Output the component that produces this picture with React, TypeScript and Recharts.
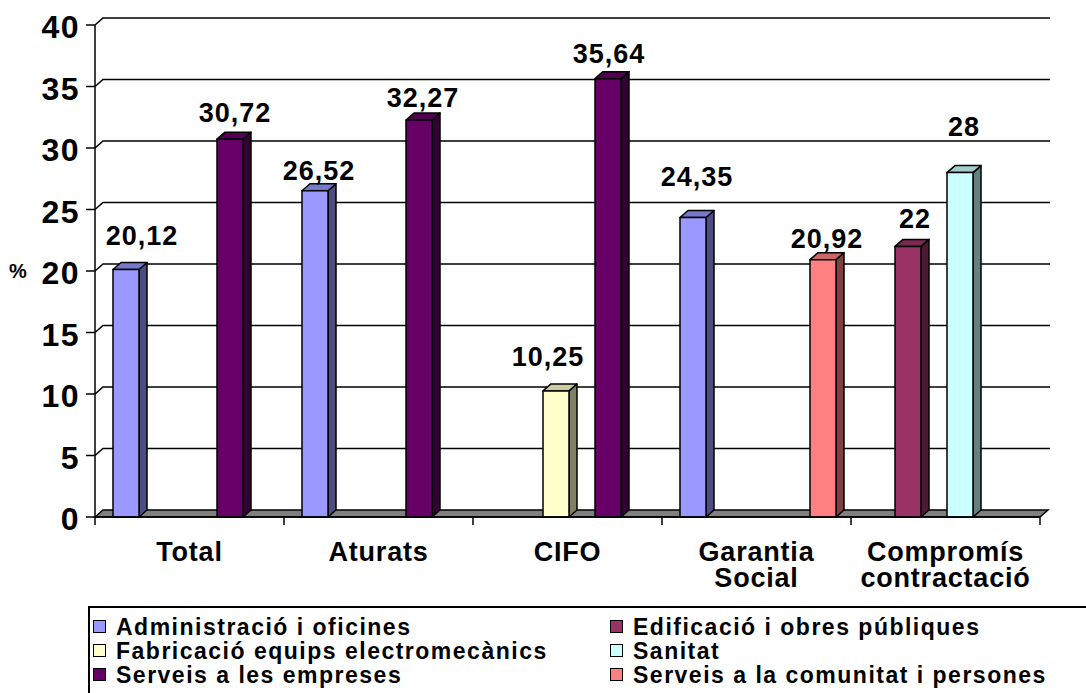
import { Bar, BarChart, CartesianGrid, LabelList, Legend, XAxis, YAxis } from "recharts"

const categories = ["Total", "Aturats", "CIFO", "Garantia Social", "Compromís contractació"]

const administracio = [20.12, 26.52, null, 24.35, null]
const edificacio = [null, null, null, null, 22]
const fabricacio = [null, null, 10.25, null, null]
const sanitat = [null, null, null, null, 28]
const serveisEmpreses = [30.72, 32.27, 35.64, null, null]
const serveisComunitat = [null, null, null, 20.92, null]

const yTicks = [0, 5, 10, 15, 20, 25, 30, 35, 40]

const FONT = '"Liberation Sans", Arial, Helvetica, sans-serif'
// depth of the 3D look (right, up)
const DX = 8
const DY = 7

const series = [
  { key: "admin", name: "Administració i oficines", values: administracio, front: "#9999FF", top: "#7777CC", side: "#4D4D80" },
  { key: "edif", name: "Edificació i obres públiques", values: edificacio, front: "#993366", top: "#7A2952", side: "#4D1A33" },
  { key: "fab", name: "Fabricació equips electromecànics", values: fabricacio, front: "#FFFFCC", top: "#CCCCA3", side: "#808066" },
  { key: "sanitat", name: "Sanitat", values: sanitat, front: "#CCFFFF", top: "#A3CCCC", side: "#668080" },
  { key: "empreses", name: "Serveis a les empreses", values: serveisEmpreses, front: "#660066", top: "#520052", side: "#330033" },
  { key: "comunitat", name: "Serveis a la comunitat i persones", values: serveisComunitat, front: "#FF8080", top: "#CC6666", side: "#804040" },
]

// hand-placed data labels in the original (dx, dy from default spot), by category index
const labelNudge: Record<string, [number, number]> = {
  "0-admin": [12, -5],
  "0-empreses": [1, 3],
  "1-admin": [0, 9],
  "1-empreses": [0, 7],
  "2-fab": [-12, -5],
  "2-empreses": [-3, 4],
  "3-admin": [0, -11],
  "3-comunitat": [0, 8],
  "4-edif": [3, 2],
  "4-sanitat": [0, -17],
}

const data = categories.map((category, i) => {
  const row: Record<string, string | number | null> = { category }
  series.forEach((s) => {
    row[s.key] = s.values[i]
  })
  return row
})

function Bar3D(props: any) {
  const { x, y, width, height, front, top, side } = props
  if (height == null || height <= 0 || x == null) return null
  const r = x + width
  const b = y + height
  return (
    <g stroke="#000" strokeWidth={1.5} strokeLinejoin="round">
      <polygon points={`${r},${y} ${r + DX},${y - DY} ${r + DX},${b - DY} ${r},${b}`} fill={side} />
      <polygon points={`${x},${y} ${x + DX},${y - DY} ${r + DX},${y - DY} ${r},${y}`} fill={top} />
      <rect x={x} y={y} width={width} height={height} fill={front} />
    </g>
  )
}

function ValueLabel(props: any) {
  const { x, y, width, value, values, seriesKey } = props
  if (value == null) return null
  const cat = values.indexOf(value)
  const [dx, dy] = labelNudge[`${cat}-${seriesKey}`] ?? [0, 0]
  return (
    <text
      x={x + width / 2 + DX / 2 + dx}
      y={y - 20 + dy}
      textAnchor="middle"
      fontFamily={FONT}
      fontWeight="bold"
      fontSize={27}
      letterSpacing={1}
      fill="#000"
    >
      {String(value).replace(".", ",")}
    </text>
  )
}

function GridLine(props: any) {
  const { x1, y1, x2, y, height } = props
  if (Math.abs(y1 - (y + height)) < 0.5) {
    return (
      <polygon
        points={`${x1},${y1} ${x1 + DX},${y1 - DY} ${x2 + DX},${y1 - DY} ${x2},${y1}`}
        fill="#808080"
        stroke="#000"
        strokeWidth={1.5}
      />
    )
  }
  return (
    <polyline
      points={`${x1},${y1} ${x1 + DX},${y1 - DY} ${x2 + DX + 2},${y1 - DY}`}
      fill="none"
      stroke="#000"
      strokeWidth={1.6}
    />
  )
}

function YTick(props: any) {
  const { x, y, payload } = props
  return (
    <text
      x={x}
      y={y}
      dy={13}
      textAnchor="end"
      fontFamily={FONT}
      fontWeight="bold"
      fontSize={32}
      letterSpacing={1.5}
      fill="#000"
    >
      {payload.value}
    </text>
  )
}

function CategoryTick(props: any) {
  const { x, y, payload, index, width, visibleTicksCount } = props
  const half = (width ?? 945) / (visibleTicksCount ?? categories.length) / 2
  const words = String(payload.value).split(" ")
  return (
    <g>
      <line x1={x - half} y1={y} x2={x - half} y2={y + 8} stroke="#000" strokeWidth={1.5} />
      {index === categories.length - 1 && (
        <line x1={x + half} y1={y} x2={x + half} y2={y + 8} stroke="#000" strokeWidth={1.5} />
      )}
      <text
        x={x}
        y={y + 44}
        textAnchor="middle"
        fontFamily={FONT}
        fontWeight="bold"
        fontSize={27}
        letterSpacing={0.8}
        fill="#000"
      >
        {words.map((w, i) => (
          <tspan key={w} x={x} dy={i === 0 ? 0 : 26}>
            {w}
          </tspan>
        ))}
      </text>
    </g>
  )
}

function LegendBox(props: any) {
  const { payload = [] } = props
  return (
    <div
      style={{
        border: "2px solid #000",
        borderRight: "none",
        borderBottom: "none",
        paddingLeft: 3,
        paddingTop: 7,
        height: 100,
        boxSizing: "border-box",
        display: "grid",
        gridTemplateColumns: "517px 517px",
        gridAutoRows: "24px",
        fontFamily: FONT,
        fontWeight: "bold",
        fontSize: 23,
        letterSpacing: 1.5,
        lineHeight: "24px",
        color: "#000",
        background: "#fff",
      }}
    >
      {payload.map((entry: any) => (
        <div key={entry.value} style={{ display: "flex", alignItems: "flex-start", height: 24, whiteSpace: "nowrap" }}>
          <span
            style={{
              display: "block",
              flex: "none",
              width: 13,
              height: 13,
              boxSizing: "border-box",
              border: "1.5px solid #000",
              background: entry.color,
              marginRight: 10,
              marginTop: 5,
            }}
          />
          <span>{entry.value}</span>
        </div>
      ))}
    </div>
  )
}

const legendOrder = (item: any) => series.findIndex((s) => s.key === item.dataKey)

export default function App() {
  return (
    <div style={{ position: "absolute", left: 0, top: 0, width: 1086, height: 693, background: "#fff", overflow: "hidden" }}>
      <BarChart
        width={1086}
        height={693}
        data={data}
        margin={{ top: 25, right: 46, left: 0, bottom: 116 }}
        barCategoryGap={18}
        barGap={0}
      >
        <CartesianGrid vertical={false} horizontal={(p: any) => <GridLine {...p} />} />
        <XAxis
          dataKey="category"
          height={60}
          interval={0}
          tickSize={0}
          tickMargin={0}
          tickLine={false}
          axisLine={{ stroke: "#000", strokeWidth: 1.5 }}
          tick={<CategoryTick />}
        />
        <YAxis
          domain={[0, 40]}
          ticks={yTicks}
          interval={0}
          width={95}
          tickSize={9}
          tickMargin={6}
          axisLine={{ stroke: "#000", strokeWidth: 1.5 }}
          tickLine={{ stroke: "#000", strokeWidth: 1.5 }}
          tick={<YTick />}
          label={{
            value: "%",
            position: "insideLeft",
            offset: 9,
            fontFamily: FONT,
            fontWeight: "bold",
            fontSize: 20,
            fill: "#000",
          }}
        />
        <Legend
          layout="vertical"
          align="center"
          verticalAlign="middle"
          itemSorter={legendOrder}
          wrapperStyle={{ position: "absolute", left: 88, top: 606, width: 1040, height: 100 }}
          content={<LegendBox />}
        />
        {series.map((s) => (
          <Bar
            key={s.key}
            dataKey={s.key}
            name={s.name}
            fill={s.front}
            isAnimationActive={false}
            shape={(p: any) => <Bar3D {...p} front={s.front} top={s.top} side={s.side} />}
          >
            <LabelList
              dataKey={s.key}
              content={(p: any) => <ValueLabel {...p} values={s.values} seriesKey={s.key} />}
            />
          </Bar>
        ))}
      </BarChart>
    </div>
  )
}
